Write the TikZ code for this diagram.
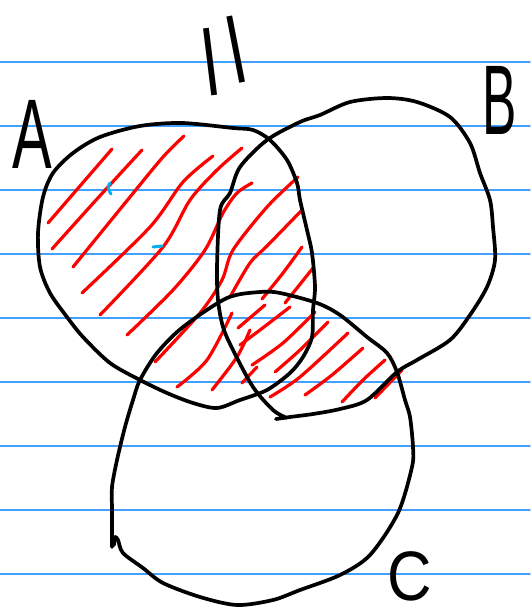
\documentclass[tikz,border=0pt]{standalone}
\usepackage{fontspec}
\setmainfont{Liberation Sans}
\definecolor{ruleblue}{RGB}{66,160,255}
\definecolor{markblue}{RGB}{0,176,240}

\begin{document}
\begin{tikzpicture}[x=1pt,y=-1pt,line cap=round,line join=round]
\tikzstyle{ruled}=[draw=ruleblue,line width=1.4pt]
\tikzstyle{ring}=[draw=black,line width=3.7pt]
\tikzstyle{hatch}=[draw=red,line width=3.2pt]
\tikzstyle{tick}=[draw=markblue,line width=3pt]
\tikzstyle{letter}=[inner sep=0pt,anchor=base,font=\fontsize{99}{99}\selectfont]
\fill[white] (0,0) rectangle (530,615);
\useasboundingbox (0,0) rectangle (530,615);
% ruled paper
\foreach \y in {62,126,...,574} \draw[ruled] (0,\y) -- (530,\y);
% hatching
\draw[hatch] plot[smooth] coordinates {(48,223) (80,186) (112,149)};
\draw[hatch] plot[smooth] coordinates {(52,249) (97,199) (142,150)};
\draw[hatch] plot[smooth] coordinates {(73,267) (130,197) (163,157) (184,136)};
\draw[hatch] plot[smooth] coordinates {(82,293) (150,227) (183,182) (213,156)};
\draw[hatch] plot[smooth] coordinates {(100,315) (163,247) (190,200) (217,170) (242,148)};
\draw[hatch] plot[smooth] coordinates {(127,335) (173,290) (205,250) (223,213) (237,193) (252,183)};
\draw[hatch] plot[smooth] coordinates {(155,362) (200,313) (222,280) (233,250) (267,207) (298,177)};
\draw[hatch] plot[smooth] coordinates {(177,387) (207,360) (232,313)};
\draw[hatch] plot[smooth] coordinates {(230,297) (250,263) (267,246) (302,210)};
\draw[hatch] plot[smooth] coordinates {(262,299) (283,273) (302,247)};
\draw[hatch] plot[smooth] coordinates {(285,303) (313,268)};
\draw[hatch] plot[smooth] coordinates {(212,390) (237,357) (250,330)};
\draw[hatch] plot[smooth] coordinates {(238,328) (265,305)};
\draw[hatch] plot[smooth] coordinates {(240,345) (260,330) (290,307)};
\draw[hatch] plot[smooth] coordinates {(252,365) (283,343) (315,312)};
\draw[hatch] plot[smooth] coordinates {(242,383) (257,367)};
\draw[hatch] plot[smooth] coordinates {(275,372) (300,350) (328,322)};
\draw[hatch] plot[smooth] coordinates {(270,397) (300,377) (348,333)};
\draw[hatch] plot[smooth] coordinates {(305,395) (332,375) (363,348)};
\draw[hatch] plot[smooth] coordinates {(342,402) (363,380) (385,360)};
\draw[hatch] plot[smooth] coordinates {(375,398) (402,370)};
% stray blue marks
\draw[tick] plot[smooth] coordinates {(110,183) (108,188) (111,194)};
\draw[tick] (153,247) -- (162,246);
% set A
\draw[ring] plot[smooth cycle] coordinates {(233,128) (182,123) (140,126) (100,137) (73,153)
  (53,173) (43,197) (38,233) (40,267) (50,293) (67,317) (83,337) (110,363) (140,380)
  (167,393) (193,403) (217,408) (240,400) (267,390) (290,373) (303,357) (312,337)
  (313,310) (315,287) (312,253) (307,230) (300,200) (297,183) (287,160) (270,140) (253,130)};
% set B
\draw[ring] plot[smooth] coordinates {(276,419) (290,417) (313,414) (340,409) (367,400)
  (397,372) (417,360) (450,340) (470,315) (487,287) (495,260) (493,227) (490,200)
  (480,173) (470,143) (450,117) (417,102) (387,98) (350,102) (320,115) (300,122)
  (267,140) (240,167) (230,193) (220,210) (217,267) (218,300) (223,327) (233,350)
  (253,387) (273,410) (287,418)};
% set C
\draw[ring] plot[smooth] coordinates {(112,547) (112,510) (112,487) (117,460) (125,427)
  (133,400) (140,380) (157,353) (183,327) (227,298) (260,292) (280,293) (317,303)
  (340,315) (367,337) (387,353) (397,372) (405,400) (410,417) (413,447) (412,467)
  (398,513) (370,555) (340,575) (300,590) (273,600) (237,605) (200,597) (163,583)
  (143,568) (123,553) (118,540) (115,537) (114,545)};
% labels
\node[letter] (labA) at (32,168) {\scalebox{0.6}[1]{A}};
\node[letter] (labB) at (500,135) {\scalebox{0.52}[1]{B}};
\node[letter,font=\fontsize{70}{70}\selectfont] (labC) at (410,600) {\scalebox{0.88}[1]{C}};
\node[letter,font=\fontsize{72}{72}\selectfont,rotate=7] (barL) at (213,80) {\makebox[0pt]{|}};
\node[letter,font=\fontsize{72}{72}\selectfont,rotate=11] (barR) at (240,68) {\makebox[0pt]{|}};
\end{tikzpicture}
\end{document}
